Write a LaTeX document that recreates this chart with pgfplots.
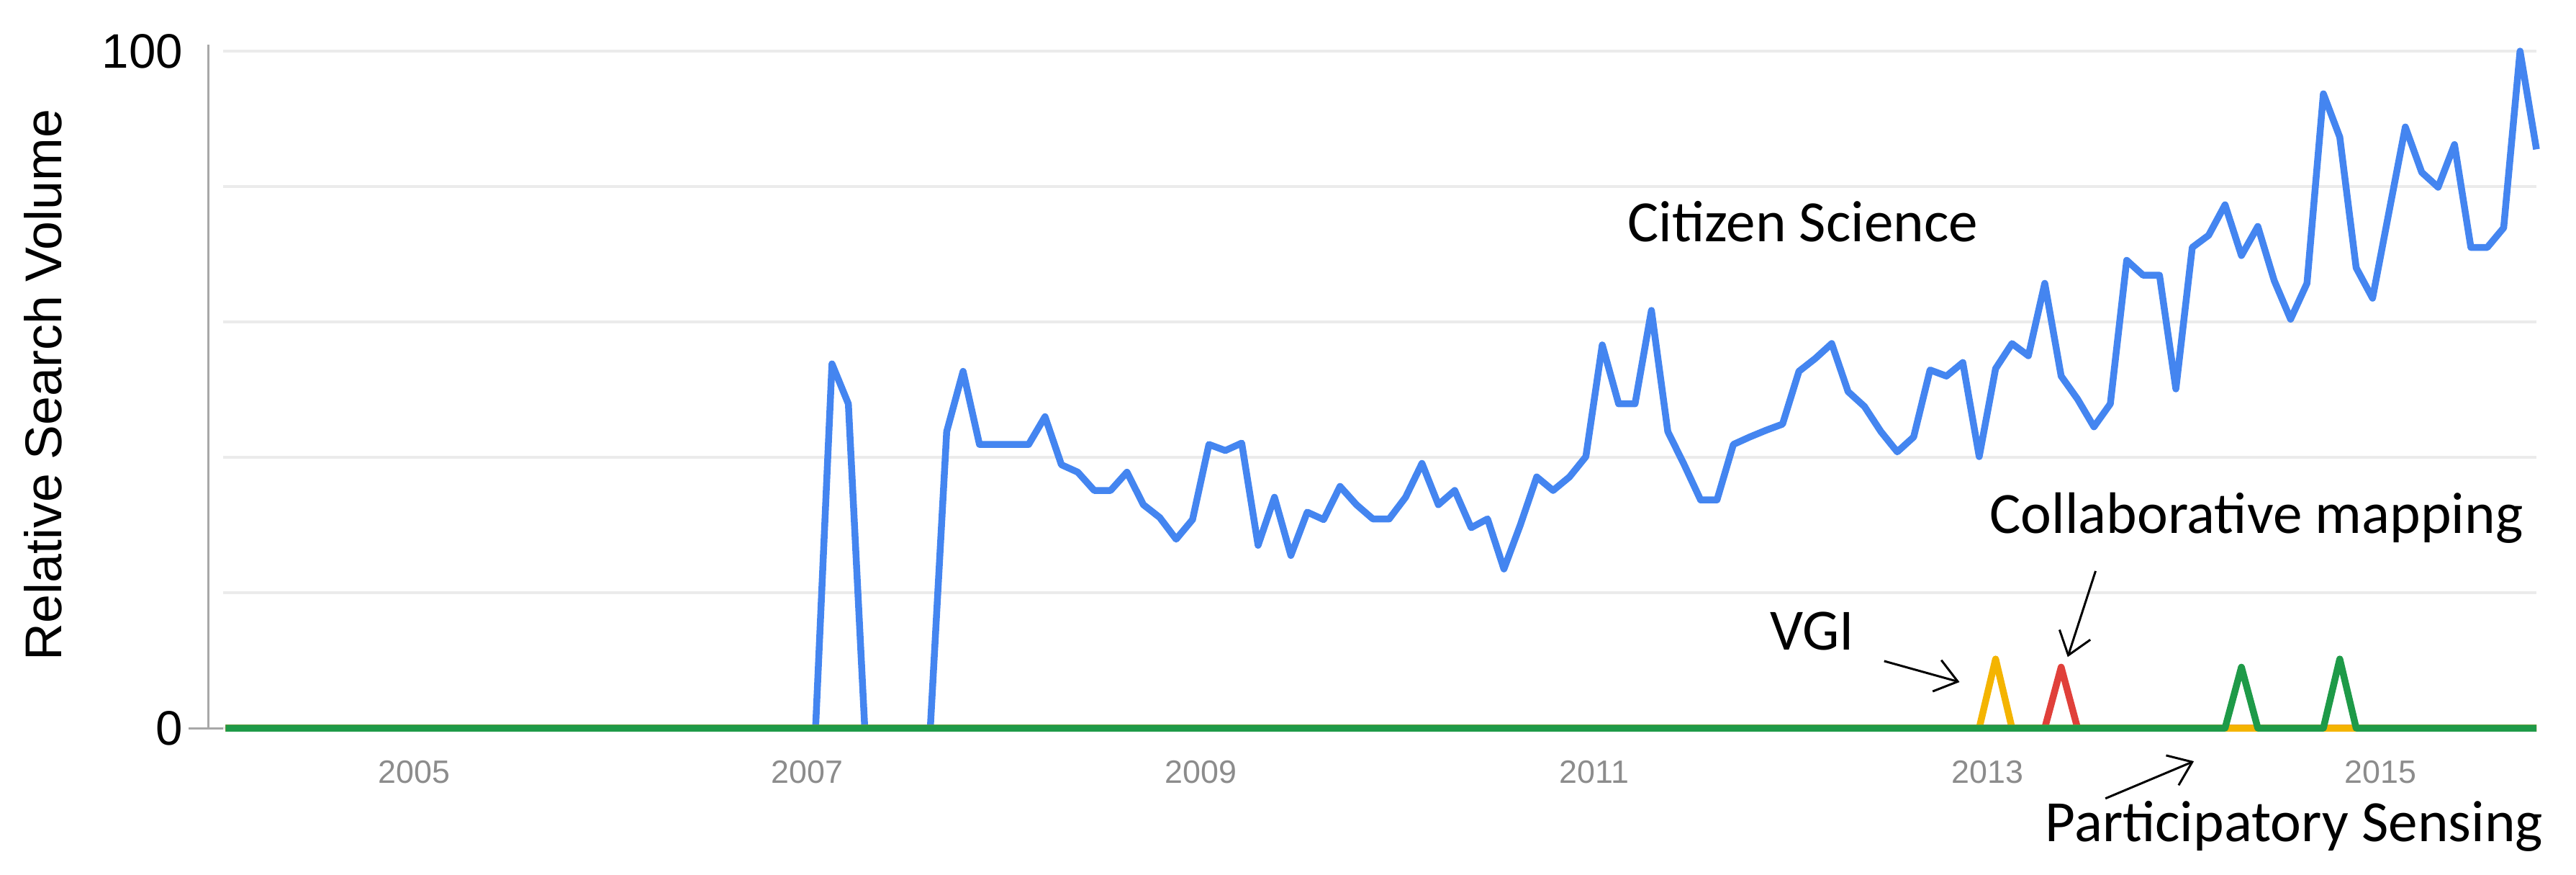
\documentclass[border=0pt]{standalone}
\usepackage{fontspec}
\setmainfont{Liberation Sans}
\newfontfamily\calib{Carlito}
\usepackage{pgfplots}
\pgfplotsset{compat=1.18}
\usetikzlibrary{arrows.meta}
\definecolor{gblue}{HTML}{4485F0}
\definecolor{gred}{HTML}{E0403A}
\definecolor{gyellow}{HTML}{F4B400}
\definecolor{ggreen}{HTML}{1E9A48}
\definecolor{gridgray}{HTML}{EBEBEB}
\definecolor{axisgray}{HTML}{A8A8A8}
\definecolor{labgray}{HTML}{8C8C8C}
\begin{document}
\begin{tikzpicture}
\begin{axis}[
  scale only axis, width=642.8bp, height=188bp,
  xmin=-0.15, xmax=141, ymin=0, ymax=100,
  clip=false,
  axis line style={draw=none},
  major tick length=0pt,
  xtick={11.5,35.5,59.5,83.5,107.5,131.5},
  xticklabels={2005,2007,2009,2011,2013,2015},
  ytick={0,20,40,60,80,100},
  yticklabels={0,,,,,100},
  ymajorgrids, grid style={gridgray, line width=0.7bp},
  /pgf/number format/assume math mode=true,
  xticklabel style={font=\fontsize{9}{10}\selectfont, text=labgray, yshift=-5.6bp},
  yticklabel style={font=\fontsize{13.5}{15}\selectfont, xshift=-7.7bp},
  every axis plot/.append style={line join=round, no marks},
]
% Citizen Science (monthly, index 0 = Jan 2004)
\addplot[gblue, line width=1.9bp] coordinates {
(0,0)(36,0)(37,53.8)(38,47.9)(39,0)(43,0)(44,43.8)(45,52.7)(46,41.9)(47,41.9)
(48,41.9)(49,41.9)(50,46.0)(51,38.9)(52,37.8)(53,35.1)(54,35.1)(55,37.8)(56,33.0)
(57,31.1)(58,27.9)(59,30.8)(60,41.9)(61,41.0)(62,42.1)(63,27.0)(64,34.1)(65,25.5)
(66,31.9)(67,30.8)(68,35.7)(69,33.0)(70,30.9)(71,30.9)(72,34.1)(73,39.1)(74,33.0)
(75,35.1)(76,29.6)(77,30.9)(78,23.5)(79,30.0)(80,37.1)(81,35.1)(82,37.1)(83,40.1)
(84,56.6)(85,47.9)(86,47.9)(87,61.7)(88,43.8)(89,38.9)(90,33.7)(91,33.7)(92,41.9)
(93,43.0)(94,44.0)(95,44.9)(96,52.7)(97,54.6)(98,56.8)(99,49.7)(100,47.5)(101,43.8)
(102,40.8)(103,43.0)(104,52.9)(105,52.0)(106,54.0)(107,40.1)(108,53.1)(109,56.8)
(110,55.0)(111,65.7)(112,52.0)(113,48.6)(114,44.5)(115,47.9)(116,69.1)(117,66.9)
(118,66.9)(119,50.1)(120,71.0)(121,72.8)(122,77.3)(123,69.8)(124,74.1)(125,66.1)
(126,60.4)(127,65.7)(128,93.7)(129,87.3)(130,68.0)(131,63.5)(132,76.2)(133,88.8)
(134,82.1)(135,79.9)(136,86.2)(137,71.0)(138,71.0)(139,73.9)(140,100)(141,85.5)
};
% Collaborative mapping
\addplot[gred, line width=1.9bp] coordinates {(0,0)(111,0)(112,9)(113,0)(141,0)};
% VGI
\addplot[gyellow, line width=1.9bp] coordinates {(0,0)(107,0)(108,10.2)(109,0)(141,0)};
% Participatory Sensing
\addplot[ggreen, line width=1.9bp] coordinates {(0,0)(122,0)(123,9)(124,0)(128,0)(129,10.2)(130,0)(141,0)};

\draw[axisgray, line width=0.6bp] (axis cs:-1.07,0) -- (axis cs:-1.07,101);
\draw[axisgray, line width=0.6bp] ([xshift=-5.4bp]axis cs:-1.07,0) -- (axis cs:-0.15,0);

\node[rotate=90, font=\fontsize{14.4}{16}\selectfont] at ([xshift=-50bp]axis cs:-0.15,50.7) {Relative Search Volume};

\begin{scope}[every node/.style={font=\calib\fontsize{16.3}{18}\selectfont, inner sep=0pt, anchor=base west}]
\node at (axis cs:85.5,71.9) {Citizen Science};
\node at (axis cs:107.6,28.8) {Collaborative mapping};
\node at (axis cs:94.2,11.5) {VGI};
\node at (axis cs:111,-16.8) {Participatory Sensing};
\end{scope}
\begin{scope}[-{Straight Barb[length=6bp,width=9bp]}, line width=0.6bp]
\draw (axis cs:101.2,9.9) -- (axis cs:105.8,6.8);
\draw (axis cs:114.1,23.2) -- (axis cs:112.4,10.5);
\draw (axis cs:114.7,-10.4) -- (axis cs:120.1,-4.9);
\end{scope}
\coordinate (o) at (axis cs:-0.15,0);
\end{axis}
\pgfresetboundingbox
\path ([shift={(-62bp,-40.8bp)}]o) rectangle ([shift={(653.8bp,202.2bp)}]o);
\end{tikzpicture}
\end{document}
